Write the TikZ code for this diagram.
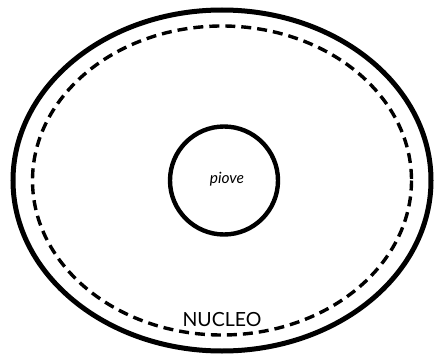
\documentclass[tikz,border=0pt]{standalone}
\usepackage{fontspec}
\setsansfont{Lato}
\usepackage{tikz}
\usetikzlibrary{positioning}

\begin{document}
\begin{tikzpicture}[
  x=1pt, y=-1pt,
  rim/.style={draw=black, line width=5pt},
  nucleusline/.style={draw=black, line width=3.4pt, dash pattern=on 10pt off 6pt},
  coreline/.style={draw=black, line width=4.4pt},
  label/.style={font=\sffamily, inner sep=0pt},
]
  \useasboundingbox (0,0) rectangle (434,356);

  % Ellipses
  \coordinate (centre) at (222,180.5);
  \draw[rim] (centre) ellipse [x radius=209, y radius=170.5];
  \draw[nucleusline] (centre) ellipse [x radius=189.5, y radius=154.5];

  % Inner circle
  \coordinate (core) at (224,180.5);
  \draw[coreline] (core) circle [radius=54];

  % Labels
  \node[label, font=\sffamily\itshape\fontsize{15.5}{15.5}\selectfont] (piove) at (227,179) {piove};
  \node[label, font=\sffamily\fontsize{19.5}{19.5}\selectfont] (nucleo) at (222,319.5) {NUCLEO};
\end{tikzpicture}
\end{document}
